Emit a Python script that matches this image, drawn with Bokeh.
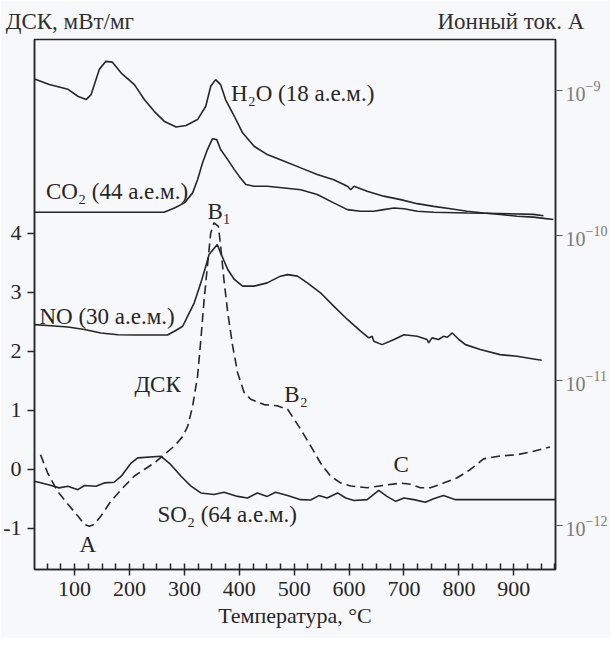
from bokeh.plotting import figure
from bokeh.models import Range1d, LinearAxis, LogAxis, LogScale, FixedTicker, Label
from bokeh.embed import file_html
from bokeh.resources import INLINE

# ---- data ----
temp_dsc = [38, 51, 69, 88, 106, 118, 127, 136, 148, 166, 191, 209, 227, 245, 263, 282, 297, 306, 315, 324,
            330, 336, 342, 348, 354, 362, 366, 372, 379, 388, 397, 409, 421, 445, 469, 488, 500, 512, 530, 548,
            566, 585, 603, 633, 663, 694, 712, 730, 748, 772, 797, 821, 845, 875, 906, 936, 966]
dsc = [0.25, -0.06, -0.37, -0.59, -0.79, -0.93, -0.96, -0.93, -0.79, -0.54, -0.28, -0.11, 0.00, 0.11, 0.25,
       0.40, 0.56, 0.73, 1.07, 1.58, 2.20, 2.88, 3.45, 4.01, 4.18, 4.12, 3.79, 3.22, 2.66, 2.09, 1.64, 1.30,
       1.19, 1.10, 1.08, 1.02, 0.85, 0.68, 0.40, 0.11, -0.11, -0.23, -0.28, -0.31, -0.27, -0.23, -0.25, -0.31,
       -0.31, -0.23, -0.14, 0.00, 0.18, 0.23, 0.25, 0.31, 0.38]

temp_h2o = [27, 54, 88, 106, 121, 130, 145, 157, 169, 185, 209, 227, 245, 263, 285, 303, 324, 339, 348, 357,
            366, 375, 391, 406, 427, 451, 482, 512, 542, 572, 597, 603, 609, 633, 663, 694, 724, 754, 785, 815,
            845, 875, 906, 936, 951, 972]
h2o = [1.20e-9, 1.10e-9, 1.02e-9, 9.14e-10, 8.67e-10, 9.37e-10, 1.40e-9, 1.59e-9, 1.57e-9, 1.32e-9,
       1.10e-9, 8.67e-10, 7.19e-10, 6.15e-10, 5.61e-10, 5.74e-10, 6.31e-10, 7.80e-10, 1.07e-9, 1.19e-9,
       1.10e-9, 8.67e-10, 6.65e-10, 5.11e-10, 4.13e-10, 3.62e-10, 3.26e-10, 2.93e-10, 2.64e-10, 2.43e-10,
       2.19e-10, 2.07e-10, 2.19e-10, 2.02e-10, 1.87e-10, 1.77e-10, 1.66e-10, 1.59e-10, 1.53e-10, 1.47e-10,
       1.43e-10, 1.40e-10, 1.36e-10, 1.34e-10, 1.32e-10, 1.29e-10]

temp_co2 = [27, 263, 282, 300, 315, 324, 333, 342, 351, 359, 366, 379, 391, 400, 412, 427, 451, 482, 512, 542,
            572, 597, 621, 645, 663, 682, 700, 724, 754, 815, 875, 936, 954]
co2 = [1.45e-10, 1.45e-10, 1.55e-10, 1.68e-10, 1.97e-10, 2.43e-10, 3.17e-10, 3.92e-10, 4.65e-10, 4.59e-10,
       3.92e-10, 3.34e-10, 2.85e-10, 2.56e-10, 2.25e-10, 2.19e-10, 2.19e-10, 2.13e-10, 2.07e-10, 1.92e-10,
       1.68e-10, 1.51e-10, 1.47e-10, 1.47e-10, 1.51e-10, 1.55e-10, 1.53e-10, 1.47e-10, 1.45e-10, 1.43e-10,
       1.42e-10, 1.40e-10, 1.37e-10]

temp_no = [27, 57, 88, 118, 148, 179, 209, 269, 282, 297, 306, 318, 330, 339, 345, 360, 366, 379, 391, 406,
           427, 451, 475, 488, 506, 524, 548, 572, 597, 621, 636, 642, 645, 660, 682, 700, 724, 742, 745, 751,
           763, 772, 779, 788, 800, 812, 839, 875, 906, 936, 951]
no = [2.43e-11, 2.39e-11, 2.34e-11, 2.25e-11, 2.13e-11, 2.07e-11, 2.06e-11, 2.06e-11, 2.19e-11, 2.37e-11,
      2.78e-11, 3.44e-11, 4.72e-11, 6.15e-11, 7.40e-11, 8.67e-11, 7.59e-11, 5.83e-11, 4.98e-11, 4.48e-11,
      4.48e-11, 4.72e-11, 5.25e-11, 5.38e-11, 5.25e-11, 4.72e-11, 4.03e-11, 3.26e-11, 2.64e-11, 2.19e-11,
      1.97e-11, 2.02e-11, 1.87e-11, 1.77e-11, 1.92e-11, 2.07e-11, 2.02e-11, 1.92e-11, 1.82e-11, 1.97e-11,
      1.92e-11, 2.02e-11, 1.99e-11, 2.13e-11, 1.92e-11, 1.77e-11, 1.64e-11, 1.51e-11, 1.47e-11, 1.41e-11,
      1.38e-11]

temp_so2 = [27, 51, 72, 88, 106, 118, 139, 154, 172, 185, 203, 215, 257, 275, 294, 312, 330, 354, 372, 397,
            415, 433, 451, 466, 488, 512, 530, 545, 560, 579, 594, 609, 633, 654, 669, 685, 700, 718, 739, 754,
            772, 794, 976]
so2 = [2.02e-12, 1.92e-12, 1.82e-12, 1.87e-12, 1.77e-12, 1.89e-12, 1.87e-12, 1.97e-12, 1.99e-12, 2.19e-12,
       2.70e-12, 2.93e-12, 3.01e-12, 2.64e-12, 2.19e-12, 1.87e-12, 1.68e-12, 1.64e-12, 1.70e-12, 1.59e-12,
       1.55e-12, 1.68e-12, 1.59e-12, 1.70e-12, 1.61e-12, 1.51e-12, 1.50e-12, 1.61e-12, 1.55e-12, 1.68e-12,
       1.55e-12, 1.49e-12, 1.51e-12, 1.75e-12, 1.59e-12, 1.47e-12, 1.55e-12, 1.51e-12, 1.45e-12, 1.53e-12,
       1.61e-12, 1.51e-12, 1.51e-12]

temp_ticks = [100, 200, 300, 400, 500, 600, 700, 800, 900]
temp_minor = [50, 75, 125, 150, 175, 225, 250, 275, 325, 350, 375, 425, 450, 475, 525, 550, 575,
              625, 650, 675, 725, 750, 775, 825, 850, 875, 925, 950, 975]
dsc_ticks = [-1, 0, 1, 2, 3, 4]
dsc_tick_labels = ["-1", "0", "1", "2", "3", "4"]
ion_ticks = [1e-12, 1e-11, 1e-10, 1e-9]

left_title = "ДСК, мВт/мг"
right_title = "Ионный ток. А"

# curve annotations: text, temperature, DSC-axis position
annotations = [
    ("H₂O (18 а.е.м.)", 385, 6.38),
    ("CO₂ (44 а.е.м.)", 48, 4.72),
    ("B₁", 342, 4.38),
    ("NO (30 а.е.м.)", 36, 2.60),
    ("ДСК", 209, 1.44),
    ("B₂", 482, 1.27),
    ("C", 681, 0.08),
    ("SO₂ (64 а.е.м.)", 251, -0.76),
    ("A", 109, -1.27),
]

FONT = "Liberation Serif"
INK = "#262626"
BG = "#f7f8fa"
FS = "22px"

p = figure(frame_width=521, frame_height=530, output_backend="svg", toolbar_location=None,
           x_range=Range1d(27, 976), y_range=Range1d(-1.695, 7.288),
           min_border_left=33, min_border_right=46, min_border_top=39, min_border_bottom=69)
p.background_fill_color = BG
p.border_fill_color = BG
p.outline_line_color = INK
p.outline_line_width = 1.5
p.grid.visible = False

p.extra_y_ranges = {"ion": Range1d(4.98e-13, 2.25e-9)}
p.extra_y_scales = {"ion": LogScale()}

xa = p.below[0]
ya = p.left[0]

# caption line above the frame (left: DSC units, right: ion current) carried by a bare top axis
top = LinearAxis(ticker=FixedTicker(ticks=[]))
top.axis_label = left_title + "\u2003" * 13 + "\u2009" + right_title
top.axis_label_text_font = FONT
top.axis_label_text_font_size = "23px"
top.axis_label_text_font_style = "normal"
top.axis_label_text_color = "#303030"
top.axis_label_standoff = 6
top.axis_line_color = None
top.major_tick_line_color = None
top.minor_tick_line_color = None
top.major_tick_out = 0
top.major_tick_in = 0
top.major_label_text_font_size = "0px"
p.add_layout(top, "above")

# bottom axis
xa.ticker = FixedTicker(ticks=temp_ticks, minor_ticks=temp_minor)
xa.axis_label = "Температура, °C"
xa.axis_label_text_font = FONT
xa.axis_label_text_font_style = "normal"
xa.axis_label_text_font_size = FS
xa.axis_label_text_color = INK
xa.axis_label_standoff = 4
xa.major_label_text_font = FONT
xa.major_label_text_font_size = FS
xa.major_label_text_color = INK
xa.major_label_standoff = 6
xa.major_tick_in = 6
xa.major_tick_out = 6
xa.minor_tick_in = 6
xa.minor_tick_out = 0
xa.axis_line_color = INK
xa.axis_line_width = 1.5
xa.major_tick_line_color = INK
xa.major_tick_line_width = 1.5
xa.minor_tick_line_color = INK
xa.minor_tick_line_width = 1.5

# left axis
ya.ticker = FixedTicker(ticks=dsc_ticks)
ya.major_label_overrides = {t: s for t, s in zip(dsc_ticks, dsc_tick_labels)}
ya.major_label_text_font = FONT
ya.major_label_text_font_size = FS
ya.major_label_text_color = INK
ya.major_label_standoff = 6
ya.major_tick_in = 0
ya.major_tick_out = 7
ya.minor_tick_line_color = None
ya.axis_line_color = INK
ya.axis_line_width = 1.5
ya.major_tick_line_color = INK
ya.major_tick_line_width = 1.5

# right (ion current) axis: log scale, labels as 10 with a raised exponent
ra = LogAxis(y_range_name="ion")
ra.ticker = FixedTicker(ticks=ion_ticks)
ra.major_label_text_font = FONT
ra.major_label_text_font_size = "20px"
ra.major_label_text_color = "#7a7a7a"
ra.major_label_standoff = 3
ra.major_tick_in = 0
ra.major_tick_out = 7
ra.minor_tick_line_color = None
ra.axis_line_color = INK
ra.axis_line_width = 1.5
ra.major_tick_line_color = "#555555"
ra.major_tick_line_width = 1.2
p.add_layout(ra, "right")

# curves
lw = 1.6
p.line(temp_h2o, h2o, y_range_name="ion", line_color=INK, line_width=lw)
p.line(temp_co2, co2, y_range_name="ion", line_color=INK, line_width=lw)
p.line(temp_no, no, y_range_name="ion", line_color=INK, line_width=lw)
p.line(temp_so2, so2, y_range_name="ion", line_color=INK, line_width=lw)
p.line(temp_dsc, dsc, line_color=INK, line_width=lw, line_dash="9 5")

for txt, t, yv in annotations:
    p.add_layout(Label(x=t, y=yv, text=txt, text_font=FONT, text_font_size="23px",
                       text_color=INK, text_baseline="middle", text_align="left"))

open("out.html", "w").write(file_html(p, INLINE))
